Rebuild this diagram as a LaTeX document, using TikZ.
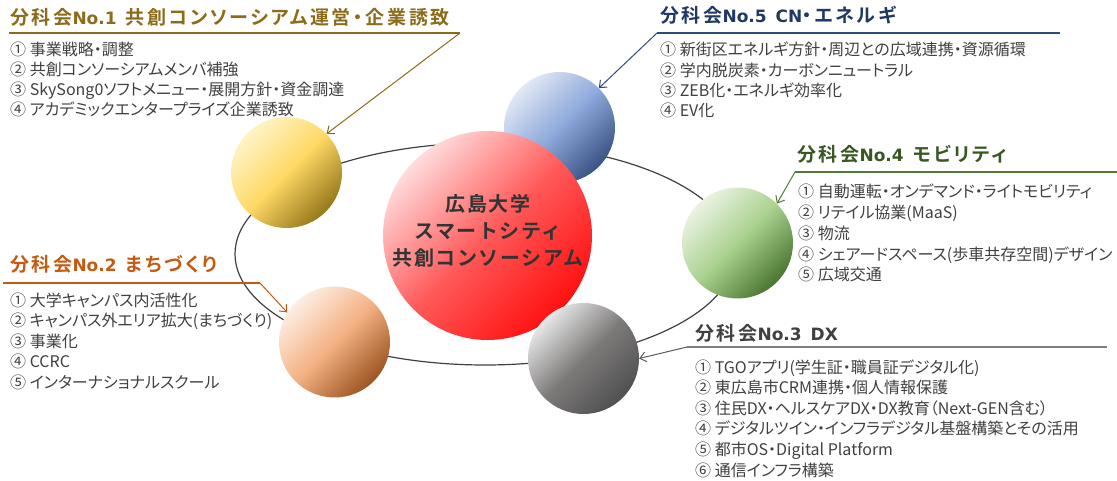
\documentclass[tikz,border=0pt]{standalone}
\usepackage{fontspec}
\setmainfont{Noto Sans CJK JP}[BoldFont={Noto Sans CJK JP Bold},RawFeature=+palt]
\newfontfamily\titlefont{Noto Sans CJK JP}[BoldFont={Noto Sans CJK JP Bold},RawFeature=+palt,LetterSpace=14]
\newfontfamily\latinfont{DejaVu Sans}
\newfontfamily\centerfont{Noto Sans CJK JP}[BoldFont={Noto Sans CJK JP Bold},LetterSpace=8]
\usetikzlibrary{arrows.meta}

\definecolor{txt}{RGB}{64,64,64}
\definecolor{ctxt}{RGB}{51,51,51}
\definecolor{orbitc}{RGB}{64,64,64}
\definecolor{gold}{RGB}{140,108,26}
\definecolor{navy}{RGB}{31,56,100}
\definecolor{navyln}{RGB}{47,75,124}
\definecolor{forest}{RGB}{56,87,35}
\definecolor{forestln}{RGB}{78,122,52}
\definecolor{rust}{RGB}{197,90,17}
\definecolor{greyln}{RGB}{127,127,127}
\definecolor{greyar}{RGB}{89,89,89}
% sphere gradients: light / middle / dark
\definecolor{bluL}{RGB}{226,233,246}\definecolor{bluM}{RGB}{142,169,219}\definecolor{bluD}{RGB}{58,83,131}
\definecolor{redL}{RGB}{255,220,220}\definecolor{redM}{RGB}{255,90,90}\definecolor{redD}{RGB}{255,16,16}
\definecolor{gryL}{RGB}{232,232,232}\definecolor{gryM}{RGB}{125,123,122}\definecolor{gryD}{RGB}{80,80,80}
\definecolor{yelL}{RGB}{255,244,200}\definecolor{yelM}{RGB}{255,217,102}\definecolor{yelD}{RGB}{150,120,26}
\definecolor{orgL}{RGB}{253,238,228}\definecolor{orgM}{RGB}{244,177,131}\definecolor{orgD}{RGB}{156,85,34}
\definecolor{grnL}{RGB}{234,243,226}\definecolor{grnM}{RGB}{169,209,142}\definecolor{grnD}{RGB}{74,117,48}

% Latin part of a heading, set in a wider sans
\newcommand{\lat}[1]{{\latinfont\fontsize{17}{22}\selectfont #1}}
\newcommand{\gap}{\hspace{9pt}}

\begin{document}
\begin{tikzpicture}[x=1pt,y=-1pt,
  sphere/.style={circle, inner sep=0pt, minimum size=111pt,
    top color=#1L, bottom color=#1D, middle color=#1M, shading angle=45},
  orbit/.style={draw=orbitc, line width=1.2pt},
  title/.style={anchor=base west, inner sep=0pt, font=\titlefont\fontsize{19}{22}\selectfont\bfseries},
  item/.style={anchor=base west, inner sep=0pt, text=txt, font=\fontsize{16}{20}\selectfont},
  uline/.style={line width=1.8pt},
  pointer/.style={line width=1pt, -{Straight Barb[length=6pt,width=10pt,line width=1pt]}}]
\useasboundingbox (0,0) rectangle (1117,481);

% orbit ring behind the spheres
\draw[orbit] (485,254) ellipse [x radius=250, y radius=111];

% spheres
\node[sphere=blu] (blue) at (559.5,127.5) {};
\node[sphere=red, minimum size=209pt] (core) at (487.5,235.5) {};
\node[sphere=gry] (grey) at (583.5,358.5) {};
\node[sphere=yel] (yellow) at (286.5,172.5) {};
\node[sphere=org] (orange) at (334.5,342) {};
\node[sphere=grn] (green) at (737.5,243) {};

% centre label
\node[inner sep=0pt, align=center, text=ctxt,
      font=\centerfont\fontsize{20}{27}\selectfont\bfseries] (ctext) at (488,231)
  {広島大学\\スマートシティ\\共創コンソーシアム};

% ---- group 1
\node[title, text=gold] (t1) at (10,24.5) {分科会\lat{No.1}\gap 共創コンソーシアム運営・企業誘致};
\coordinate (u1a) at (9,33); \coordinate (u1b) at (460,33);
\draw[uline, gold] (u1a) -- (u1b);
\draw[pointer, gold] (u1b) -- (yellow.44);
\foreach \t [count=\i] in {{① 事業戦略・調整},{② 共創コンソーシアムメンバ補強},{③ SkySong0ソフトメニュー・展開方針・資金調達},{④ アカデミックエンタープライズ企業誘致}}
  \node[item] (g1-\i) at (10,{56+20*(\i-1)}) {\t};

% ---- group 5
\node[title, text=navy] (t5) at (660,23) {分科会\lat{No.5}\gap\lat{CN}・エネルギ};
\coordinate (u5a) at (657,33); \coordinate (u5b) at (1060,33);
\draw[uline, navyln] (u5a) -- (u5b);
\draw[pointer, navyln] (u5a) -- (blue.45);
\foreach \t [count=\i] in {{① 新街区エネルギ方針・周辺との広域連携・資源循環},{② 学内脱炭素・カーボンニュートラル},{③ ZEB化・エネルギ効率化},{④ EV化}}
  \node[item] (g5-\i) at (660,{56+20.3*(\i-1)}) {\t};

% ---- group 4
\node[title, text=forest] (t4) at (797,162) {分科会\lat{No.4}\gap モビリティ};
\coordinate (u4a) at (795,172); \coordinate (u4b) at (1117,172);
\draw[uline, forestln] (u4a) -- (u4b);
\draw[pointer, forestln] (u4a) -- (green.45);
\foreach \t [count=\i] in {{① 自動運転・オンデマンド・ライトモビリティ},{② リテイル協業(MaaS)},{③ 物流},{④ シェアードスペース(歩車共存空間)デザイン},{⑤ 広域交通}}
  \node[item] (g4-\i) at (798,{198+20.7*(\i-1)}) {\t};

% ---- group 2
\node[title, text=rust] (t2) at (10,272) {分科会\lat{No.2}\gap まちづくり};
\coordinate (u2a) at (3,283); \coordinate (u2b) at (260,283);
\draw[uline, rust] (u2a) -- (u2b);
\draw[pointer, rust] (u2b) -- (orange.148);
\foreach \t [count=\i] in {{① 大学キャンパス内活性化},{② キャンパス外エリア拡大(まちづくり)},{③ 事業化},{④ CCRC},{⑤ インターナショナルスクール}}
  \node[item] (g2-\i) at (10,{306+20.6*(\i-1)}) {\t};

% ---- group 3
\node[title, text=txt] (t3) at (695,340) {分科会\lat{No.3}\gap\lat{DX}};
\coordinate (u3a) at (687,347); \coordinate (u3b) at (1107,347);
\draw[uline, greyln] (u3a) -- (u3b);
\draw[pointer, greyar] (u3a) -- (grey.0);
\foreach \t [count=\i] in {{① TGOアプリ(学生証・職員証デジタル化)},{② 東広島市CRM連携・個人情報保護},{③ 住民DX・ヘルスケアDX・DX教育（Next-GEN含む）},{④ デジタルツイン・インフラデジタル基盤構築とその活用},{⑤ 都市OS・Digital Platform},{⑥ 通信インフラ構築}}
  \node[item] (g3-\i) at (695,{373+20.6*(\i-1)}) {\t};
\end{tikzpicture}
\end{document}
